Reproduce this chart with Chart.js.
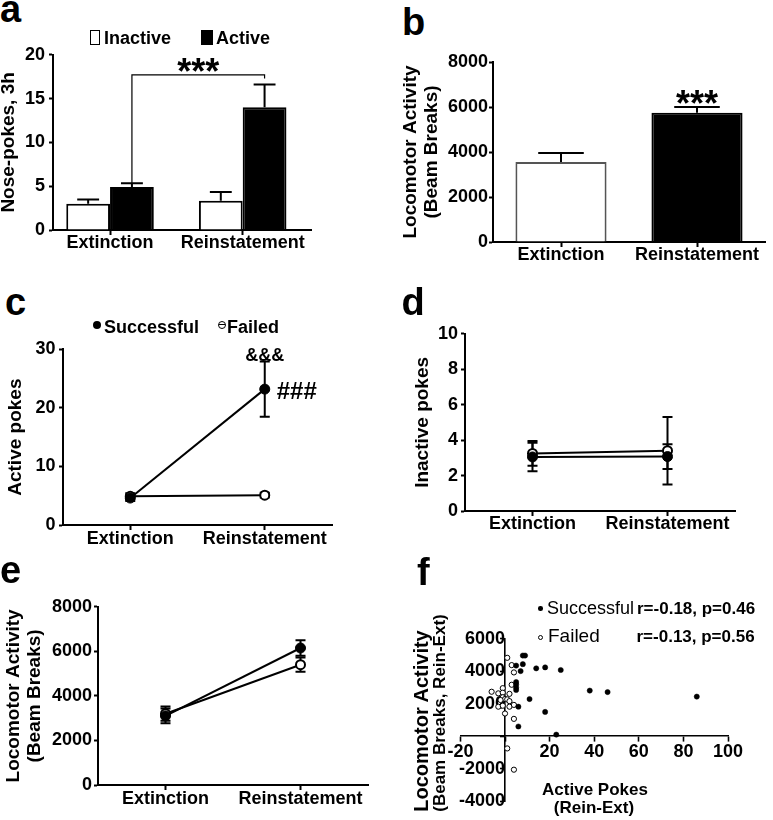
<!DOCTYPE html>
<html>
<head>
<meta charset="utf-8">
<script src="https://cdn.jsdelivr.net/npm/chart.js@4/dist/chart.umd.min.js"></script>
<style>
html, body { margin: 0; padding: 0; background: #fff; }
#fig { position: relative; width: 773px; height: 820px; overflow: hidden; font-family: "Liberation Sans", Arial, sans-serif; color: #000; }
#fig canvas { position: absolute; }
.t { position: absolute; white-space: nowrap; line-height: 1; }
.mk { position: absolute; box-sizing: border-box; }
</style>
</head>
<body>
<div id="fig"></div>
<script>
// ---- data ----
const phases = ['Extinction', 'Reinstatement'];

// a: nose-pokes in 3h (bars, SEM up)
const pokesInactive = [3.0, 3.35];
const pokesInactiveErr = [0.47, 1.0];
const pokesActive = [4.9, 14.0];
const pokesActiveErr = [0.45, 2.6];

// b: locomotor activity
const locoMean = [3560, 5750];
const locoErr = [400, 250];

// c: active pokes by group
const activeSuccess = [4.6, 23.2];
const activeSuccessErr = [0.5, 4.7];
const activeFailed = [4.9, 5.1];
const activeFailedErr = [0.5, 0.4];

// d: inactive pokes by group
const inactiveSuccess = [3.05, 3.07];
const inactiveSuccessErr = [0.8, 0.7];
const inactiveFailed = [3.25, 3.4];
const inactiveFailedErr = [0.7, 1.9];

// e: locomotor activity by group
const locoSuccess = [3100, 6150];
const locoSuccessErr = [330, 350];
const locoFailed = [3200, 5400];
const locoFailedErr = [320, 320];

// f: change scores (Rein-Ext)
const diffPokesSuccess = [8, 9, 5, 8, 7, 14, 18, 25, 5, 5, 5, 5, 11, 6, 18, 6, 23, 38, 46, 86];
const diffLocoSuccess = [4970, 4970, 4350, 4440, 4010, 4180, 4240, 4080, 3340, 3190, 3000, 2850, 2290, 1820, 1500, 600, 100, 2810, 2720, 2440];
const diffPokesFailed = [1, 3, 4, 3, -1, -6, -3, -1, 2, -1, 0, 1, -2, 2, -3, -1, 2, 4, 0, 4, 1, 4];
const diffLocoFailed = [4830, 4380, 3930, 3170, 2960, 2740, 2640, 2680, 2610, 2400, 2290, 2270, 2230, 2160, 1820, 1880, 1820, 1930, 1400, 1070, -750, -2060];

// annotation levels (panel a bracket)
const bracketLevel = 17.7;
const bracketRightEnd = 17.3;

// ---- helpers ----
const FONT = '"Liberation Sans", Arial, sans-serif';
const fig = document.getElementById('fig');
Chart.defaults.font.family = FONT;
Chart.defaults.color = '#000';

function txt(s, x, base, size, weight, center) {
    const d = document.createElement('div');
    d.className = 't';
    d.textContent = s;
    d.style.fontSize = size + 'px';
    d.style.fontWeight = weight;
    d.style.top = (base - 0.8465 * size) + 'px';
    d.style.left = x + 'px';
    if (center) d.style.transform = 'translateX(-50%)';
    fig.appendChild(d);
}

function vtxt(s, cx, cy, size) {
    const d = document.createElement('div');
    d.className = 't';
    d.textContent = s;
    d.style.fontSize = size + 'px';
    d.style.fontWeight = 'bold';
    d.style.left = cx + 'px';
    d.style.top = cy + 'px';
    d.style.transform = 'translate(-50%,-50%) rotate(-90deg)';
    fig.appendChild(d);
}

function marker(left, top, w, h, css) {
    const d = document.createElement('div');
    d.className = 'mk';
    d.style.left = left + 'px';
    d.style.top = top + 'px';
    d.style.width = w + 'px';
    d.style.height = h + 'px';
    d.style.cssText += css;
    fig.appendChild(d);
    return d;
}

function makeCanvas(left, top, w, h) {
    const c = document.createElement('canvas');
    c.width = w;
    c.height = h;
    c.style.left = left + 'px';
    c.style.top = top + 'px';
    c.style.width = w + 'px';
    c.style.height = h + 'px';
    fig.appendChild(c);
    return c.getContext('2d');
}

function textAbove(ctx, s, x, bottom, size) {
    ctx.font = 'bold ' + size + 'px ' + FONT;
    ctx.textAlign = 'center';
    ctx.textBaseline = 'alphabetic';
    ctx.fillStyle = '#000';
    const m = ctx.measureText(s);
    ctx.fillText(s, x, bottom - m.actualBoundingBoxDescent);
}

const tickFont = { family: FONT, size: 18, weight: 'bold' };

function yAxis(min, max, step, title, yW, pad) {
    return {
        min: min, max: max,
        ticks: { stepSize: step, padding: pad, color: '#000', font: tickFont, callback: v => String(v) },
        border: { color: '#000', width: 2 },
        grid: { drawOnChartArea: false, drawTicks: true, tickLength: 4, tickColor: '#000', tickWidth: 2 },
        title: { display: true, text: title, color: '#000', padding: 0,
                 font: { family: FONT, size: 19, weight: 'bold', lineHeight: 1.13 } },
        afterFit: s => { s.width = yW; }
    };
}

function xCat(xH, pad) {
    return {
        type: 'category', offset: true,
        grid: { offset: false, drawOnChartArea: false, tickLength: 5, tickColor: '#000', tickWidth: 2 },
        border: { color: '#000', width: 2 },
        ticks: { padding: pad, color: '#000', font: tickFont, maxRotation: 0, autoSkip: false },
        afterFit: s => { s.height = xH; }
    };
}

function baseOptions(pad, scales) {
    return {
        responsive: false,
        animation: false,
        layout: { padding: pad, autoPadding: false },
        plugins: { legend: { display: false }, tooltip: { enabled: false } },
        scales: scales
    };
}

// error bars drawn from each dataset's "errors" array
const errorBars = {
    id: 'errorBars',
    beforeDatasetsDraw(chart) {
        const ctx = chart.ctx;
        chart.data.datasets.forEach((ds, i) => {
            if (!ds.errors) return;
            const meta = chart.getDatasetMeta(i);
            const ys = chart.scales[meta.yAxisID];
            ctx.save();
            ctx.strokeStyle = '#000';
            ctx.lineWidth = 2;
            meta.data.forEach((el, j) => {
                const raw = ds.data[j];
                const v = typeof raw === 'object' ? raw.y : raw;
                const top = ys.getPixelForValue(v + ds.errors[j]);
                const bottom = ds.errorUpOnly ? el.y : ys.getPixelForValue(v - ds.errors[j]);
                const half = ds.errorUpOnly ? el.width / 4 : 5;
                ctx.beginPath();
                ctx.moveTo(el.x, top); ctx.lineTo(el.x, bottom);
                ctx.moveTo(el.x - half, top); ctx.lineTo(el.x + half, top);
                if (!ds.errorUpOnly) { ctx.moveTo(el.x - half, bottom); ctx.lineTo(el.x + half, bottom); }
                ctx.stroke();
            });
            ctx.restore();
        });
    }
};
Chart.register(errorBars);

// ---- panel a ----
const pokesMarks = {
    id: 'pokesMarks',
    afterDatasetsDraw(chart) {
        const ctx = chart.ctx, y = chart.scales.y;
        const bars = chart.getDatasetMeta(1).data;
        const x0 = bars[0].x, x1 = bars[1].x;
        const yL = y.getPixelForValue(pokesActive[0] + pokesActiveErr[0]);
        const yTop = y.getPixelForValue(bracketLevel);
        const yR = y.getPixelForValue(bracketRightEnd);
        ctx.save();
        ctx.strokeStyle = '#000';
        ctx.lineWidth = 1.2;
        ctx.beginPath();
        ctx.moveTo(x0, yL); ctx.lineTo(x0, yTop); ctx.lineTo(x1, yTop); ctx.lineTo(x1, yR);
        ctx.stroke();
        textAbove(ctx, '***', (x0 + x1) / 2, yTop - 3.3, 36);
        ctx.restore();
    }
};

const xA = {
    type: 'linear', min: -0.43, max: 1.515, offset: false,
    afterBuildTicks: s => { s.ticks = phases.map((p, i) => ({ value: i })); },
    grid: { offset: false, drawOnChartArea: false, tickLength: 5, tickColor: '#000', tickWidth: 2 },
    border: { color: '#000', width: 2 },
    ticks: { padding: -3, color: '#000', font: tickFont, maxRotation: 0, callback: v => phases[v] },
    afterFit: s => { s.height = 40; }
};

new Chart(makeCanvas(-2, 40, 323, 230), {
    type: 'bar',
    data: {
        datasets: [
            { label: 'Inactive', data: pokesInactive.map((v, i) => ({ x: i, y: v })),
              errors: pokesInactiveErr, errorUpOnly: true,
              backgroundColor: '#fff', borderColor: '#000', borderWidth: 2,
              categoryPercentage: 0.66, barPercentage: 1 },
            { label: 'Active', data: pokesActive.map((v, i) => ({ x: i, y: v })),
              errors: pokesActiveErr, errorUpOnly: true,
              backgroundColor: '#000', borderColor: '#000', borderWidth: 2,
              categoryPercentage: 0.66, barPercentage: 1 }
        ]
    },
    options: baseOptions({ top: 13, right: 10, left: 0, bottom: 0 }, {
        x: xA,
        y: yAxis(0, 20, 5, 'Nose-pokes, 3h', 55, 4)
    }),
    plugins: [pokesMarks]
});

// ---- panel b ----
const locoMarks = {
    id: 'locoMarks',
    afterDatasetsDraw(chart) {
        const el = chart.getDatasetMeta(0).data[1];
        const top = chart.scales.y.getPixelForValue(locoMean[1] + locoErr[1]);
        textAbove(chart.ctx, '***', el.x, top - 2.7, 36);
    }
};

new Chart(makeCanvas(400, 45, 371, 233), {
    type: 'bar',
    data: {
        labels: phases,
        datasets: [{
            data: locoMean, errors: locoErr, errorUpOnly: true,
            backgroundColor: ['#fff', '#000'], borderColor: ['#555', '#000'], borderWidth: 2,
            categoryPercentage: 0.67, barPercentage: 1
        }]
    },
    options: baseOptions({ top: 17, right: 6, left: 0, bottom: 0 }, {
        x: xCat(36, -3),
        y: yAxis(0, 8000, 2000, ['Locomotor Activity', '(Beam Breaks)'], 93, 1)
    }),
    plugins: [locoMarks]
});

// ---- line panels ----
function groupSets(succ, succErr, fail, failErr) {
    return [
        { label: 'Successful', data: succ, errors: succErr,
          borderColor: '#000', borderWidth: 2, backgroundColor: '#000',
          pointRadius: 5, pointBackgroundColor: '#000', pointBorderColor: '#000', pointBorderWidth: 1 },
        { label: 'Failed', data: fail, errors: failErr,
          borderColor: '#000', borderWidth: 2, backgroundColor: '#fff',
          pointRadius: 4.5, pointBackgroundColor: '#fff', pointBorderColor: '#000', pointBorderWidth: 2 }
    ];
}

// ---- panel c ----
const activeMarks = {
    id: 'activeMarks',
    afterDatasetsDraw(chart) {
        const ctx = chart.ctx;
        const el = chart.getDatasetMeta(0).data[1];
        const top = chart.scales.y.getPixelForValue(activeSuccess[1] + activeSuccessErr[1]);
        textAbove(ctx, '&&&', el.x, top - 1, 18);
        ctx.save();
        ctx.font = 'bold 24px ' + FONT;
        ctx.textAlign = 'left';
        ctx.textBaseline = 'middle';
        ctx.fillStyle = '#000';
        ctx.fillText('###', el.x + 12, el.y + 3);
        ctx.restore();
    }
};

new Chart(makeCanvas(5, 335, 337, 220), {
    type: 'line',
    data: { labels: phases, datasets: groupSets(activeSuccess, activeSuccessErr, activeFailed, activeFailedErr) },
    options: baseOptions({ top: 11, right: 10, left: 0, bottom: 0 }, {
        x: xCat(30, -2),
        y: yAxis(0, 30, 10, 'Active pokes', 58, 3.5)
    }),
    plugins: [activeMarks]
});

// ---- panel d ----
new Chart(makeCanvas(412, 320, 333, 221), {
    type: 'line',
    data: { labels: phases, datasets: groupSets(inactiveSuccess, inactiveSuccessErr, inactiveFailed, inactiveFailedErr) },
    options: baseOptions({ top: 12, right: 10, left: 0, bottom: 0 }, {
        x: xCat(30, -3),
        y: yAxis(0, 10, 2, 'Inactive pokes', 53, 3)
    })
});

// ---- panel e ----
new Chart(makeCanvas(3, 594, 373, 226), {
    type: 'line',
    data: { labels: phases, datasets: groupSets(locoSuccess, locoSuccessErr, locoFailed, locoFailedErr) },
    options: baseOptions({ top: 11, right: 8, left: 0, bottom: 0 }, {
        x: xCat(35, -2),
        y: yAxis(0, 8000, 2000, ['Locomotor Activity', '(Beam Breaks)'], 95, 2)
    })
});

// ---- panel f ----
const zip = (xs, ys) => xs.map((x, i) => ({ x: x, y: ys[i] }));
new Chart(makeCanvas(440, 620, 333, 200), {
    type: 'scatter',
    data: {
        datasets: [
            { label: 'Successful', data: zip(diffPokesSuccess, diffLocoSuccess),
              pointRadius: 2.6, backgroundColor: '#000', borderColor: '#000', borderWidth: 0.5 },
            { label: 'Failed', data: zip(diffPokesFailed, diffLocoFailed),
              pointRadius: 2.6, backgroundColor: '#fff', borderColor: '#000', borderWidth: 1 }
        ]
    },
    options: baseOptions({ left: 20.4, top: 15, right: 45, bottom: 6 }, {
        x: {
            type: 'linear', min: -20, max: 100, position: { y: 0 },
            ticks: { stepSize: 20, padding: 0, color: '#000', font: tickFont, callback: v => v === 0 ? '' : String(v) },
            border: { color: '#000', width: 1.6 },
            grid: { drawOnChartArea: false, tickLength: 5, tickColor: '#000', tickWidth: 1.6 }
        },
        y: {
            type: 'linear', min: -4000, max: 6000, position: { x: 0 },
            ticks: { stepSize: 2000, padding: 8, color: '#000', font: tickFont, callback: v => v === 0 ? '' : String(v) },
            border: { color: '#000', width: 1.6 },
            grid: { drawOnChartArea: false, tickLength: 4, tickColor: '#000', tickWidth: 1.6 }
        }
    })
});

// ---- text and legends drawn as html ----
txt('a', 0, 22, 38, 'bold');
txt('b', 402, 35, 38, 'bold');
txt('c', 5, 315, 38, 'bold');
txt('d', 401.5, 315, 38, 'bold');
txt('e', 0, 583, 38, 'bold');
txt('f', 417, 585, 38, 'bold');

// legend a
marker(90, 30, 10, 15, 'border:1.5px solid #000;background:#fff;');
txt('Inactive', 104, 44.3, 18, 'bold');
marker(201, 30, 12, 15, 'background:#000;');
txt('Active', 216, 44.3, 18, 'bold');

// legend c
marker(92.7, 321, 8, 8, 'background:#000;border-radius:50%;');
txt('Successful', 104, 333, 18, 'bold');
const openC = marker(217.7, 321, 8, 8, 'border:1.3px solid #000;border-radius:50%;background:#fff;');
openC.innerHTML = '<div style="position:absolute;left:0;right:0;top:2.1px;height:1.2px;background:#000"></div>';
txt('Failed', 227, 333, 18, 'bold');

// legend f
marker(538, 606.3, 4.5, 4.5, 'background:#000;border-radius:50%;');
txt('Successful', 547, 614.5, 18, 'normal');
txt('r=-0.18, p=0.46', 637, 614.5, 17, 'bold');
marker(538.2, 635.2, 5, 5, 'border:1px solid #000;border-radius:50%;background:#fff;');
txt('Failed', 548, 642, 19, 'normal');
txt('r=-0.13, p=0.56', 636.5, 642, 17, 'bold');

// axis titles f
vtxt('Locomotor Activity', 420.5, 721, 20);
vtxt('(Beam Breaks, Rein-Ext)', 438.5, 713, 17);
txt('Active Pokes', 595, 795, 17, 'bold', true);
txt('(Rein-Ext)', 594, 813.3, 17, 'bold', true);
</script>
</body>
</html>
